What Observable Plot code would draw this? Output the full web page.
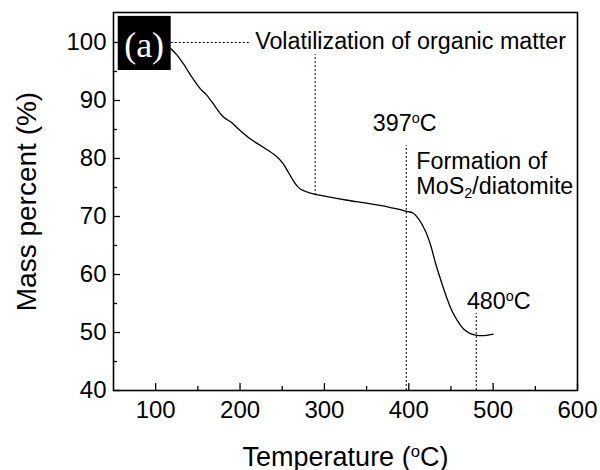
<!DOCTYPE html>
<html>
<head>
<meta charset="utf-8">
<script src="https://cdn.jsdelivr.net/npm/d3@7"></script>
<script src="https://cdn.jsdelivr.net/npm/@observablehq/plot@0.6"></script>
<style>
  html, body { margin: 0; padding: 0; background: white; }
  #chart { width: 600px; height: 470px; }
</style>
</head>
<body>
<div id="chart"></div>
<script>
// TGA curve: temperature (°C) vs mass percent (%)
const temperature = [105,118,126,133,143,153,160,167,180,190,198,212,228,242,251,257,263,268,273,280,287,300,327,350,366,380,390,397,405,412,420,426,432,438,445,451,457,465,473,481,492,500];
const massPercent = [100,98.9,97.7,96.3,94.0,92.0,91.0,89.7,87.2,86.2,85.1,83.4,81.9,80.5,79.1,77.7,76.2,75.2,74.6,74.2,73.9,73.5,72.8,72.3,71.9,71.5,71.2,70.9,70.6,69.5,67.4,65.0,61.8,59.0,56.0,53.8,52.2,50.6,49.8,49.5,49.5,49.7];

// axes
const xTicks = [100, 200, 300, 400, 500, 600];
const xMinorTicks = [150, 250, 350, 450, 550];
const yTicks = [40, 50, 60, 70, 80, 90, 100];
const yMinorTicks = [45, 55, 65, 75, 85, 95];
const xTitle = "Temperature (°C)";
const yTitle = "Mass percent (%)";

// annotations
const guideX = [289, 397, 480];
const guideYLow = [73.6, 40, 40];
const guideYHigh = [97.9, 82.2, 53.3];
const hGuideY = [100];
const hGuideX1 = [118.4];
const hGuideX2 = [212];
const noteText = ["Volatilization of organic matter", "397°C", "Formation of\nMoS₂/diatomite", "480°C"];
const noteX = [217.9, 357.4, 409.0, 468.9];
const noteY = [98.9, 84.8, 73.85, 54.0];
const panelLabel = ["(a)"];
const panelX1 = [55.6], panelX2 = [118.4], panelY1 = [95.17], panelY2 = [104.5];
const panelTextX = [86.3], panelTextY = [99.4];

const curve = temperature.map((t, i) => ({t, m: massPercent[i]}));
const guides = guideX.map((x, i) => ({x, y1: guideYLow[i], y2: guideYHigh[i]}));
const hGuides = hGuideY.map((y, i) => ({y, x1: hGuideX1[i], x2: hGuideX2[i]}));
const notes = noteText.map((s, i) => ({s, x: noteX[i], y: noteY[i]}));
const panel = panelLabel.map((s, i) => ({s, x1: panelX1[i], x2: panelX2[i], y1: panelY1[i], y2: panelY2[i], tx: panelTextX[i], ty: panelTextY[i]}));

const dotted = {stroke: "black", strokeWidth: 1, strokeDasharray: "2,2"};

const chart = Plot.plot({
  width: 600,
  height: 470,
  marginLeft: 113,
  marginRight: 23,
  marginTop: 12,
  marginBottom: 80,
  style: {fontFamily: "'Liberation Sans', Arial, sans-serif", background: "white", color: "black"},
  x: {domain: [50, 600]},
  y: {domain: [40, 105.17]},
  marks: [
    Plot.line(curve, {x: "t", y: "m", stroke: "black", strokeWidth: 1.3, curve: "catmull-rom"}),
    Plot.ruleX(guides, {x: "x", y1: "y1", y2: "y2", ...dotted}),
    Plot.ruleY(hGuides, {y: "y", x1: "x1", x2: "x2", ...dotted}),
    Plot.rect(panel, {x1: "x1", x2: "x2", y1: "y1", y2: "y2", fill: "black"}),
    Plot.text(panel, {x: "tx", y: "ty", text: "s", fill: "white", fontSize: 36, fontFamily: "'Liberation Serif', 'Times New Roman', serif", lineAnchor: "middle"}),
    Plot.text(notes, {x: "x", y: "y", text: "s", textAnchor: "start", lineAnchor: "bottom", lineHeight: 1.1, fontSize: 23.3, fill: "black"}),
    Plot.frame({stroke: "black", strokeWidth: 1.6}),
    Plot.axisX(xTicks, {tickSize: -7, text: null, label: null, strokeWidth: 1.3}),
    Plot.axisX(xMinorTicks, {tickSize: -4, text: null, label: null, strokeWidth: 1.3}),
    Plot.axisX(xTicks, {tickSize: 0, tickPadding: 10, fontSize: 24, label: null}),
    Plot.axisY(yTicks, {tickSize: -7, text: null, label: null, strokeWidth: 1.3}),
    Plot.axisY(yMinorTicks, {tickSize: -4, text: null, label: null, strokeWidth: 1.3}),
    Plot.axisY(yTicks, {tickSize: 0, tickPadding: 7, fontSize: 24, label: null}),
    Plot.text([xTitle], {frameAnchor: "bottom", dy: 75, lineAnchor: "bottom", textAnchor: "middle", fontSize: 27, text: d => d}),
    Plot.text([yTitle], {frameAnchor: "left", dx: -78, rotate: -90, lineAnchor: "bottom", textAnchor: "middle", fontSize: 28, text: d => d})
  ]
});

// render ° as superscript "o" and ₂ as subscript "2"
const NS = "http://www.w3.org/2000/svg";
chart.querySelectorAll("text, tspan").forEach(el => {
  if (el.children.length) return;
  const s = el.textContent;
  if (!/[°₂]/.test(s)) return;
  el.textContent = "";
  for (const p of s.split(/([°₂])/)) {
    if (!p) continue;
    const t = document.createElementNS(NS, "tspan");
    if (p === "°") {
      t.textContent = "o";
      t.setAttribute("font-size", "62%");
      t.setAttribute("baseline-shift", "55%");
    } else if (p === "₂") {
      t.textContent = "2";
      t.setAttribute("font-size", "62%");
      t.setAttribute("baseline-shift", "-25%");
    } else {
      t.textContent = p;
    }
    el.appendChild(t);
  }
});

document.getElementById("chart").appendChild(chart);
</script>
</body>
</html>
